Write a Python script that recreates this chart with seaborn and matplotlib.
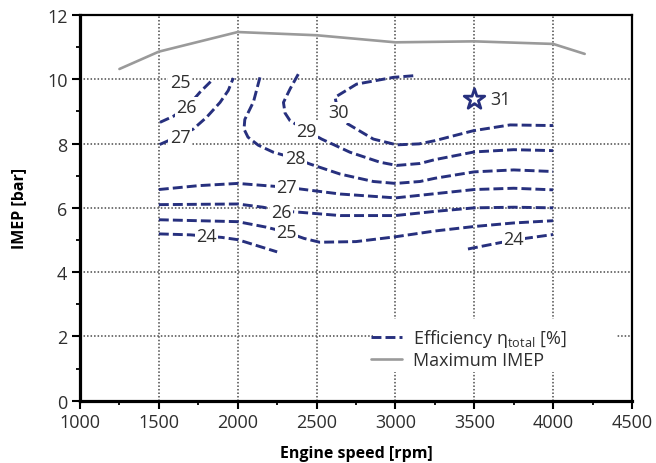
import matplotlib
matplotlib.use("Agg")
import matplotlib.pyplot as plt
from matplotlib.ticker import MultipleLocator
from matplotlib.patches import Rectangle
from matplotlib.lines import Line2D
import seaborn as sns

# ---------------- data ----------------
# Maximum IMEP curve
imep_speed = [1250, 1500, 2000, 2500, 3000, 3500, 4000, 4200]
imep_max = [10.32, 10.86, 11.47, 11.37, 11.15, 11.18, 11.10, 10.79]

# Efficiency iso-lines (engine speed [rpm], IMEP [bar])
eff26_top_x = [1507, 1592, 1676, 1761, 1835]
eff26_top_y = [8.66, 8.85, 9.12, 9.60, 9.96]

eff27_top_x = [1505, 1634, 1718, 1803, 1888, 1940, 1972]
eff27_top_y = [7.97, 8.25, 8.45, 8.82, 9.28, 9.65, 10.04]

eff28_x = [2141, 2100, 2045, 2040, 2065, 2130, 2226, 2363, 2460, 2650, 2860, 3000, 3156, 3250, 3500, 3750, 4000]
eff28_y = [10.06, 9.30, 8.75, 8.45, 8.20, 7.95, 7.73, 7.54, 7.36, 7.05, 6.82, 6.76, 6.82, 6.92, 7.12, 7.18, 7.13]

eff29_x = [2384, 2332, 2290, 2300, 2332, 2437, 2532, 2712, 2902, 3008, 3156, 3250, 3500, 3750, 4000]
eff29_y = [10.16, 9.70, 9.28, 8.95, 8.71, 8.40, 8.14, 7.73, 7.42, 7.32, 7.38, 7.50, 7.74, 7.81, 7.78]

eff30_x = [3113, 2987, 2754, 2617, 2638, 2681, 2860, 3008, 3150, 3250, 3494, 3727, 4000]
eff30_y = [10.11, 10.06, 9.85, 9.44, 8.97, 8.66, 8.14, 7.96, 7.99, 8.09, 8.40, 8.58, 8.56]

eff27_x = [1500, 1750, 2000, 2310, 2650, 3000, 3250, 3500, 3750, 4000]
eff27_y = [6.57, 6.69, 6.76, 6.64, 6.43, 6.31, 6.44, 6.57, 6.61, 6.56]

eff26_x = [1500, 2000, 2160, 2280, 2400, 2650, 3000, 3250, 3500, 3750, 4000]
eff26_y = [6.10, 6.12, 6.02, 5.90, 5.86, 5.76, 5.76, 5.89, 6.00, 6.02, 6.00]

eff25_x = [1500, 2000, 2180, 2310, 2420, 2520, 2750, 3000, 3250, 3500, 3750, 4000]
eff25_y = [5.63, 5.57, 5.40, 5.24, 5.05, 4.93, 4.95, 5.10, 5.28, 5.42, 5.53, 5.60]

eff24_left_x = [1500, 1700, 1900, 2000, 2250]
eff24_left_y = [5.19, 5.16, 5.08, 5.01, 4.63]

eff24_right_x = [3460, 3750, 4000]
eff24_right_y = [4.72, 5.00, 5.17]

# contour labels
label_text = ["25", "26", "27", "28", "29", "30", "27", "26", "25", "24", "24"]
label_x = [1634, 1676, 1634, 2363, 2437, 2638, 2311, 2279, 2311, 1803, 3748]
label_y = [9.92, 9.13, 8.20, 7.54, 8.40, 8.97, 6.64, 5.88, 5.24, 5.13, 5.03]

# best point
best_x = [3500]
best_y = [9.39]
best_label = "31"

x_ticks = [1000, 1500, 2000, 2500, 3000, 3500, 4000, 4500]
y_ticks = [0, 2, 4, 6, 8, 10, 12]

# ---------------- style ----------------
sns.set_style("ticks")
plt.rcParams["font.family"] = ["Open Sans", "DejaVu Sans"]
plt.rcParams["mathtext.default"] = "regular"

NAVY = "#27307e"
GREY = "#9a9a9a"
TXT = "#2e2e2e"

fig = plt.figure(figsize=(6.56, 4.64), dpi=100)
ax = fig.add_axes([0.12195, 0.13427, 0.84146, 0.83125])
ax.set_axisbelow(True)

dash = (0, (3.4, 1.4))
contours = [
    (eff26_top_x, eff26_top_y), (eff27_top_x, eff27_top_y),
    (eff28_x, eff28_y), (eff29_x, eff29_y), (eff30_x, eff30_y),
    (eff27_x, eff27_y), (eff26_x, eff26_y), (eff25_x, eff25_y),
    (eff24_left_x, eff24_left_y), (eff24_right_x, eff24_right_y),
]
for xs, ys in contours:
    sns.lineplot(x=xs, y=ys, ax=ax, sort=False, estimator=None, color=NAVY,
                 linewidth=2.1, linestyle=dash, legend=False, zorder=3)

sns.lineplot(x=imep_speed, y=imep_max, ax=ax, sort=False, estimator=None,
             color=GREY, linewidth=1.9, legend=False, zorder=3)

sns.scatterplot(x=best_x, y=best_y, ax=ax, marker="*", s=240,
                facecolor="white", edgecolor=NAVY, linewidth=2.0, zorder=5, legend=False)
ax.text(best_x[0] + 100, best_y[0], best_label, ha="left", va="center",
        fontsize=13, color=TXT, zorder=6)

for t, lx, ly in zip(label_text, label_x, label_y):
    ax.text(lx, ly, t, ha="center", va="center", fontsize=13, color=TXT, zorder=4,
            bbox=dict(boxstyle="square,pad=0.08", facecolor="white", edgecolor="none"))

# axes
ax.set_xlim(1000, 4500)
ax.set_ylim(0, 12)
ax.set_xticks(x_ticks)
ax.set_yticks(y_ticks)
ax.xaxis.set_minor_locator(MultipleLocator(250))
ax.yaxis.set_minor_locator(MultipleLocator(1))
ax.tick_params(which="major", direction="out", length=6, width=1.5, color="black",
               labelsize=13, labelcolor=TXT, pad=3)
ax.tick_params(which="minor", direction="out", length=3, width=1.3, color="black")
ax.grid(True, which="major", linestyle=(0, (1, 1.3)), color="#4a4a4a", linewidth=1.1)

for side in ["left", "bottom"]:
    ax.spines[side].set_linewidth(2.3)
    ax.spines[side].set_color("black")
for side in ["top", "right"]:
    ax.spines[side].set_visible(True)
    ax.spines[side].set_linewidth(1.6)
    ax.spines[side].set_color("black")

ax.set_xlabel("Engine speed [rpm]", fontsize=11.5, fontweight="bold", color="black", labelpad=10)
ax.set_ylabel("IMEP [bar]", fontsize=11.5, fontweight="bold", color="black", labelpad=14)

# legend
ax.add_patch(Rectangle((0.531, 0.074), 0.442, 0.138, transform=ax.transAxes,
                       facecolor="white", edgecolor="none", zorder=1))
handles = [Line2D([], [], color=NAVY, linewidth=2.1, linestyle=dash),
           Line2D([], [], color=GREY, linewidth=1.9)]
ax.legend(handles, ["Efficiency η$_{total}$ [%]", "Maximum IMEP"],
          loc="upper left", bbox_to_anchor=(0.528, 0.19), frameon=False,
          fontsize=13, handlelength=1.7, handletextpad=0.6, labelspacing=0.1,
          borderpad=0, borderaxespad=0, labelcolor=TXT)

fig.savefig("out.png", dpi=100)
